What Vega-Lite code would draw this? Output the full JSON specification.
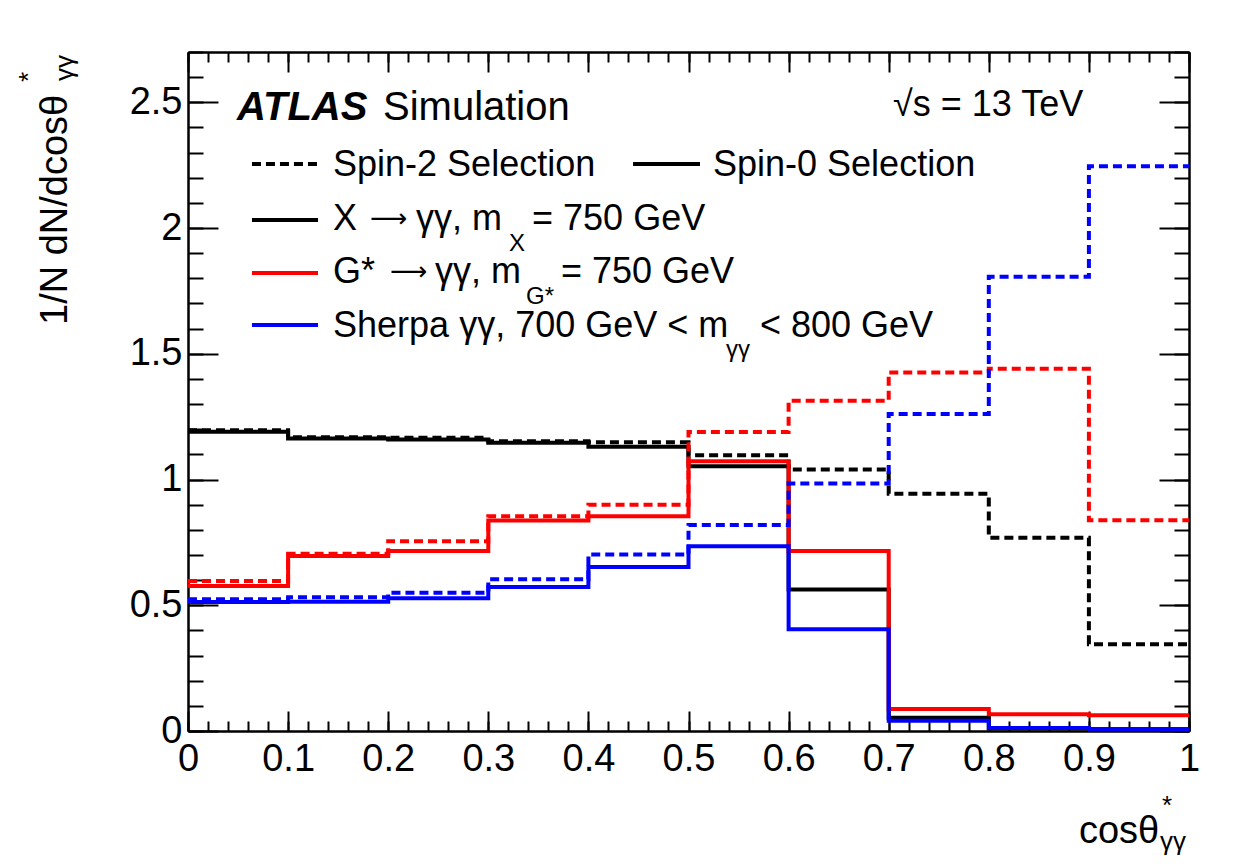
{
  "$schema": "https://vega.github.io/schema/vega-lite/v6.json",
  "width": 1001,
  "height": 679,
  "autosize": {"type": "none"},
  "padding": {"left": 188, "top": 52, "right": 47, "bottom": 136},
  "background": "white",
  "config": {
    "font": "Liberation Sans",
    "view": {"stroke": null},
    "axis": {"grid": false, "domainColor": "black", "domainWidth": 2, "tickColor": "black", "tickWidth": 2, "labelColor": "black", "labelFont": "Liberation Sans", "labelFontSize": 38},
    "text": {"color": "black", "font": "Liberation Sans"}
  },
  "datasets": {
    "hist": [
      {"sample": "X", "sel": "Spin-2", "lo": 0.0, "hi": 0.1, "v": 1.196},
      {"sample": "X", "sel": "Spin-2", "lo": 0.1, "hi": 0.2, "v": 1.168},
      {"sample": "X", "sel": "Spin-2", "lo": 0.2, "hi": 0.3, "v": 1.166},
      {"sample": "X", "sel": "Spin-2", "lo": 0.3, "hi": 0.4, "v": 1.152},
      {"sample": "X", "sel": "Spin-2", "lo": 0.4, "hi": 0.5, "v": 1.148},
      {"sample": "X", "sel": "Spin-2", "lo": 0.5, "hi": 0.6, "v": 1.097},
      {"sample": "X", "sel": "Spin-2", "lo": 0.6, "hi": 0.7, "v": 1.040},
      {"sample": "X", "sel": "Spin-2", "lo": 0.7, "hi": 0.8, "v": 0.943},
      {"sample": "X", "sel": "Spin-2", "lo": 0.8, "hi": 0.9, "v": 0.768},
      {"sample": "X", "sel": "Spin-2", "lo": 0.9, "hi": 1.0, "v": 0.345},
      {"sample": "X", "sel": "Spin-0", "lo": 0.0, "hi": 0.1, "v": 1.190},
      {"sample": "X", "sel": "Spin-0", "lo": 0.1, "hi": 0.2, "v": 1.163},
      {"sample": "X", "sel": "Spin-0", "lo": 0.2, "hi": 0.3, "v": 1.159},
      {"sample": "X", "sel": "Spin-0", "lo": 0.3, "hi": 0.4, "v": 1.146},
      {"sample": "X", "sel": "Spin-0", "lo": 0.4, "hi": 0.5, "v": 1.130},
      {"sample": "X", "sel": "Spin-0", "lo": 0.5, "hi": 0.6, "v": 1.053},
      {"sample": "X", "sel": "Spin-0", "lo": 0.6, "hi": 0.7, "v": 0.563},
      {"sample": "X", "sel": "Spin-0", "lo": 0.7, "hi": 0.8, "v": 0.053},
      {"sample": "X", "sel": "Spin-0", "lo": 0.8, "hi": 0.9, "v": 0.010},
      {"sample": "X", "sel": "Spin-0", "lo": 0.9, "hi": 1.0, "v": 0.005},
      {"sample": "G", "sel": "Spin-2", "lo": 0.0, "hi": 0.1, "v": 0.596},
      {"sample": "G", "sel": "Spin-2", "lo": 0.1, "hi": 0.2, "v": 0.705},
      {"sample": "G", "sel": "Spin-2", "lo": 0.2, "hi": 0.3, "v": 0.755},
      {"sample": "G", "sel": "Spin-2", "lo": 0.3, "hi": 0.4, "v": 0.854},
      {"sample": "G", "sel": "Spin-2", "lo": 0.4, "hi": 0.5, "v": 0.900},
      {"sample": "G", "sel": "Spin-2", "lo": 0.5, "hi": 0.6, "v": 1.189},
      {"sample": "G", "sel": "Spin-2", "lo": 0.6, "hi": 0.7, "v": 1.313},
      {"sample": "G", "sel": "Spin-2", "lo": 0.7, "hi": 0.8, "v": 1.426},
      {"sample": "G", "sel": "Spin-2", "lo": 0.8, "hi": 0.9, "v": 1.440},
      {"sample": "G", "sel": "Spin-2", "lo": 0.9, "hi": 1.0, "v": 0.838},
      {"sample": "G", "sel": "Spin-0", "lo": 0.0, "hi": 0.1, "v": 0.577},
      {"sample": "G", "sel": "Spin-0", "lo": 0.1, "hi": 0.2, "v": 0.696},
      {"sample": "G", "sel": "Spin-0", "lo": 0.2, "hi": 0.3, "v": 0.716},
      {"sample": "G", "sel": "Spin-0", "lo": 0.3, "hi": 0.4, "v": 0.837},
      {"sample": "G", "sel": "Spin-0", "lo": 0.4, "hi": 0.5, "v": 0.854},
      {"sample": "G", "sel": "Spin-0", "lo": 0.5, "hi": 0.6, "v": 1.073},
      {"sample": "G", "sel": "Spin-0", "lo": 0.6, "hi": 0.7, "v": 0.716},
      {"sample": "G", "sel": "Spin-0", "lo": 0.7, "hi": 0.8, "v": 0.087},
      {"sample": "G", "sel": "Spin-0", "lo": 0.8, "hi": 0.9, "v": 0.067},
      {"sample": "G", "sel": "Spin-0", "lo": 0.9, "hi": 1.0, "v": 0.063},
      {"sample": "Sherpa", "sel": "Spin-2", "lo": 0.0, "hi": 0.1, "v": 0.524},
      {"sample": "Sherpa", "sel": "Spin-2", "lo": 0.1, "hi": 0.2, "v": 0.532},
      {"sample": "Sherpa", "sel": "Spin-2", "lo": 0.2, "hi": 0.3, "v": 0.550},
      {"sample": "Sherpa", "sel": "Spin-2", "lo": 0.3, "hi": 0.4, "v": 0.603},
      {"sample": "Sherpa", "sel": "Spin-2", "lo": 0.4, "hi": 0.5, "v": 0.702},
      {"sample": "Sherpa", "sel": "Spin-2", "lo": 0.5, "hi": 0.6, "v": 0.819},
      {"sample": "Sherpa", "sel": "Spin-2", "lo": 0.6, "hi": 0.7, "v": 0.984},
      {"sample": "Sherpa", "sel": "Spin-2", "lo": 0.7, "hi": 0.8, "v": 1.261},
      {"sample": "Sherpa", "sel": "Spin-2", "lo": 0.8, "hi": 0.9, "v": 1.806},
      {"sample": "Sherpa", "sel": "Spin-2", "lo": 0.9, "hi": 1.0, "v": 2.246},
      {"sample": "Sherpa", "sel": "Spin-0", "lo": 0.0, "hi": 0.1, "v": 0.513},
      {"sample": "Sherpa", "sel": "Spin-0", "lo": 0.1, "hi": 0.2, "v": 0.514},
      {"sample": "Sherpa", "sel": "Spin-0", "lo": 0.2, "hi": 0.3, "v": 0.528},
      {"sample": "Sherpa", "sel": "Spin-0", "lo": 0.3, "hi": 0.4, "v": 0.573},
      {"sample": "Sherpa", "sel": "Spin-0", "lo": 0.4, "hi": 0.5, "v": 0.652},
      {"sample": "Sherpa", "sel": "Spin-0", "lo": 0.5, "hi": 0.6, "v": 0.735},
      {"sample": "Sherpa", "sel": "Spin-0", "lo": 0.6, "hi": 0.7, "v": 0.405},
      {"sample": "Sherpa", "sel": "Spin-0", "lo": 0.7, "hi": 0.8, "v": 0.041},
      {"sample": "Sherpa", "sel": "Spin-0", "lo": 0.8, "hi": 0.9, "v": 0.012},
      {"sample": "Sherpa", "sel": "Spin-0", "lo": 0.9, "hi": 1.0, "v": 0.008}
    ]
  },
  "resolve": {"axis": {"x": "independent", "y": "independent"}},
  "layer": [
    {
      "data": {"name": "hist"},
      "transform": [{"fold": ["lo", "hi"], "as": ["edge", "x"]}],
      "mark": {"type": "line", "strokeWidth": 4, "strokeCap": "butt", "strokeJoin": "miter"},
      "encoding": {
        "x": {"field": "x", "type": "quantitative", "scale": {"domain": [0, 1], "nice": false, "zero": false},
          "axis": {"orient": "bottom", "values": [0, 0.1, 0.2, 0.3, 0.4, 0.5, 0.6, 0.7, 0.8, 0.9, 1], "tickSize": -20, "labelPadding": 29, "format": "~g", "labelFlush": false, "labelOverlap": false, "labelBound": false, "title": null}},
        "y": {"field": "v", "type": "quantitative", "scale": {"domain": [0, 2.7], "nice": false, "zero": false},
          "axis": {"orient": "left", "values": [0, 0.5, 1, 1.5, 2, 2.5], "tickSize": -30, "labelPadding": 36, "format": "~g", "labelFlush": false, "labelOverlap": false, "labelBound": false, "title": null}},
        "color": {"field": "sample", "type": "nominal", "scale": {"domain": ["X", "G", "Sherpa"], "range": ["#000000", "#ff0000", "#0000ff"]}, "legend": null},
        "strokeDash": {"field": "sel", "type": "nominal", "scale": {"domain": ["Spin-2", "Spin-0"], "range": [[9, 5], [1, 0]]}, "legend": null},
        "order": [{"field": "x", "type": "quantitative"}, {"field": "edge", "type": "nominal"}]
      }
    },
    {
      "data": {"values": [{"entry": "Spin-2 Selection"}]},
      "mark": {"type": "rule", "color": "#000000", "strokeWidth": 4, "strokeDash": [9, 5]},
      "encoding": {
        "x": {"datum": 0.0639, "type": "quantitative", "axis": {"orient": "top", "values": [0, 0.1, 0.2, 0.3, 0.4, 0.5, 0.6, 0.7, 0.8, 0.9, 1], "tickSize": -20, "labels": false, "title": null}},
        "x2": {"datum": 0.1299},
        "y": {"datum": 2.2547, "type": "quantitative", "axis": {"orient": "right", "values": [0, 0.5, 1, 1.5, 2, 2.5], "tickSize": -30, "labels": false, "title": null}}
      }
    },
    {
      "data": {"values": [{"entry": "Spin-0 Selection"}]},
      "mark": {"type": "rule", "color": "#000000", "strokeWidth": 4},
      "encoding": {
        "x": {"datum": 0.4446, "type": "quantitative", "axis": {"orient": "bottom", "values": [0, 0.02, 0.04, 0.06, 0.08, 0.1, 0.12, 0.14, 0.16, 0.18, 0.2, 0.22, 0.24, 0.26, 0.28, 0.3, 0.32, 0.34, 0.36, 0.38, 0.4, 0.42, 0.44, 0.46, 0.48, 0.5, 0.52, 0.54, 0.56, 0.58, 0.6, 0.62, 0.64, 0.66, 0.68, 0.7, 0.72, 0.74, 0.76, 0.78, 0.8, 0.82, 0.84, 0.86, 0.88, 0.9, 0.92, 0.94, 0.96, 0.98, 1], "tickSize": -10, "labels": false, "title": null}},
        "x2": {"datum": 0.5115},
        "y": {"datum": 2.2547, "type": "quantitative", "axis": {"orient": "left", "values": [0, 0.1, 0.2, 0.3, 0.4, 0.5, 0.6, 0.7, 0.8, 0.9, 1, 1.1, 1.2, 1.3, 1.4, 1.5, 1.6, 1.7, 1.8, 1.9, 2, 2.1, 2.2, 2.3, 2.4, 2.5, 2.6, 2.7], "tickSize": -15, "labels": false, "title": null}}
      }
    },
    {
      "data": {"values": [{"entry": "X"}]},
      "mark": {"type": "rule", "color": "#000000", "strokeWidth": 4},
      "encoding": {
        "x": {"datum": 0.0639, "type": "quantitative", "axis": {"orient": "top", "values": [0, 0.02, 0.04, 0.06, 0.08, 0.1, 0.12, 0.14, 0.16, 0.18, 0.2, 0.22, 0.24, 0.26, 0.28, 0.3, 0.32, 0.34, 0.36, 0.38, 0.4, 0.42, 0.44, 0.46, 0.48, 0.5, 0.52, 0.54, 0.56, 0.58, 0.6, 0.62, 0.64, 0.66, 0.68, 0.7, 0.72, 0.74, 0.76, 0.78, 0.8, 0.82, 0.84, 0.86, 0.88, 0.9, 0.92, 0.94, 0.96, 0.98, 1], "tickSize": -10, "labels": false, "title": null}},
        "x2": {"datum": 0.1299},
        "y": {"datum": 2.032, "type": "quantitative", "axis": {"orient": "right", "values": [0, 0.1, 0.2, 0.3, 0.4, 0.5, 0.6, 0.7, 0.8, 0.9, 1, 1.1, 1.2, 1.3, 1.4, 1.5, 1.6, 1.7, 1.8, 1.9, 2, 2.1, 2.2, 2.3, 2.4, 2.5, 2.6, 2.7], "tickSize": -15, "labels": false, "title": null}}
      }
    },
    {
      "data": {"values": [{"entry": "G"}]},
      "mark": {"type": "rule", "color": "#ff0000", "strokeWidth": 4},
      "encoding": {
        "x": {"datum": 0.0639, "type": "quantitative", "axis": null},
        "x2": {"datum": 0.1299},
        "y": {"datum": 1.8212, "type": "quantitative", "axis": null}
      }
    },
    {
      "data": {"values": [{"entry": "Sherpa"}]},
      "mark": {"type": "rule", "color": "#0000ff", "strokeWidth": 4},
      "encoding": {
        "x": {"datum": 0.0639, "type": "quantitative", "axis": null},
        "x2": {"datum": 0.1299},
        "y": {"datum": 1.6144, "type": "quantitative", "axis": null}
      }
    },
    {
      "data": {"values": [{"t": "ATLAS"}]},
      "mark": {"type": "text", "align": "left", "baseline": "alphabetic", "fontSize": 40, "fontWeight": "bold", "fontStyle": "italic"},
      "encoding": {"text": {"field": "t"}, "x": {"datum": 0.049, "type": "quantitative", "axis": null}, "y": {"datum": 2.4296, "type": "quantitative", "axis": null}}
    },
    {
      "data": {"values": [{"t": "Simulation"}]},
      "mark": {"type": "text", "align": "left", "baseline": "alphabetic", "fontSize": 40},
      "encoding": {"text": {"field": "t"}, "x": {"datum": 0.1948, "type": "quantitative", "axis": null}, "y": {"datum": 2.4296, "type": "quantitative", "axis": null}}
    },
    {
      "data": {"values": [{"t": "√s = 13 TeV"}]},
      "mark": {"type": "text", "align": "left", "baseline": "alphabetic", "fontSize": 36},
      "encoding": {"text": {"field": "t"}, "x": {"datum": 0.7043, "type": "quantitative", "axis": null}, "y": {"datum": 2.4455, "type": "quantitative", "axis": null}}
    },
    {
      "data": {"values": [{"t": "Spin-2 Selection"}]},
      "mark": {"type": "text", "align": "left", "baseline": "alphabetic", "fontSize": 36},
      "encoding": {"text": {"field": "t"}, "x": {"datum": 0.1449, "type": "quantitative", "axis": null}, "y": {"datum": 2.2069, "type": "quantitative", "axis": null}}
    },
    {
      "data": {"values": [{"t": "Spin-0 Selection"}]},
      "mark": {"type": "text", "align": "left", "baseline": "alphabetic", "fontSize": 36},
      "encoding": {"text": {"field": "t"}, "x": {"datum": 0.5245, "type": "quantitative", "axis": null}, "y": {"datum": 2.2069, "type": "quantitative", "axis": null}}
    },
    {
      "data": {"values": [{"t": "X"}]},
      "mark": {"type": "text", "align": "left", "baseline": "alphabetic", "fontSize": 36},
      "encoding": {"text": {"field": "t"}, "x": {"datum": 0.1449, "type": "quantitative", "axis": null}, "y": {"datum": 1.9922, "type": "quantitative", "axis": null}}
    },
    {
      "data": {"values": [{"t": "⟶"}]},
      "mark": {"type": "text", "align": "left", "baseline": "alphabetic", "fontSize": 26, "font": "DejaVu Sans"},
      "encoding": {"text": {"field": "t"}, "x": {"datum": 0.1818, "type": "quantitative", "axis": null}, "y": {"datum": 2.0041, "type": "quantitative", "axis": null}}
    },
    {
      "data": {"values": [{"t": "γγ, m"}]},
      "mark": {"type": "text", "align": "left", "baseline": "alphabetic", "fontSize": 36},
      "encoding": {"text": {"field": "t"}, "x": {"datum": 0.2278, "type": "quantitative", "axis": null}, "y": {"datum": 1.9922, "type": "quantitative", "axis": null}}
    },
    {
      "data": {"values": [{"t": "X"}]},
      "mark": {"type": "text", "align": "left", "baseline": "alphabetic", "fontSize": 24},
      "encoding": {"text": {"field": "t"}, "x": {"datum": 0.3207, "type": "quantitative", "axis": null}, "y": {"datum": 1.9087, "type": "quantitative", "axis": null}}
    },
    {
      "data": {"values": [{"t": "= 750 GeV"}]},
      "mark": {"type": "text", "align": "left", "baseline": "alphabetic", "fontSize": 36},
      "encoding": {"text": {"field": "t"}, "x": {"datum": 0.3437, "type": "quantitative", "axis": null}, "y": {"datum": 1.9922, "type": "quantitative", "axis": null}}
    },
    {
      "data": {"values": [{"t": "G*"}]},
      "mark": {"type": "text", "align": "left", "baseline": "alphabetic", "fontSize": 36},
      "encoding": {"text": {"field": "t"}, "x": {"datum": 0.1449, "type": "quantitative", "axis": null}, "y": {"datum": 1.7815, "type": "quantitative", "axis": null}}
    },
    {
      "data": {"values": [{"t": "⟶"}]},
      "mark": {"type": "text", "align": "left", "baseline": "alphabetic", "fontSize": 26, "font": "DejaVu Sans"},
      "encoding": {"text": {"field": "t"}, "x": {"datum": 0.2018, "type": "quantitative", "axis": null}, "y": {"datum": 1.7934, "type": "quantitative", "axis": null}}
    },
    {
      "data": {"values": [{"t": "γγ, m"}]},
      "mark": {"type": "text", "align": "left", "baseline": "alphabetic", "fontSize": 36},
      "encoding": {"text": {"field": "t"}, "x": {"datum": 0.2468, "type": "quantitative", "axis": null}, "y": {"datum": 1.7815, "type": "quantitative", "axis": null}}
    },
    {
      "data": {"values": [{"t": "G*"}]},
      "mark": {"type": "text", "align": "left", "baseline": "alphabetic", "fontSize": 24},
      "encoding": {"text": {"field": "t"}, "x": {"datum": 0.3377, "type": "quantitative", "axis": null}, "y": {"datum": 1.6979, "type": "quantitative", "axis": null}}
    },
    {
      "data": {"values": [{"t": "= 750 GeV"}]},
      "mark": {"type": "text", "align": "left", "baseline": "alphabetic", "fontSize": 36},
      "encoding": {"text": {"field": "t"}, "x": {"datum": 0.3726, "type": "quantitative", "axis": null}, "y": {"datum": 1.7815, "type": "quantitative", "axis": null}}
    },
    {
      "data": {"values": [{"t": "Sherpa γγ, 700 GeV < m"}]},
      "mark": {"type": "text", "align": "left", "baseline": "alphabetic", "fontSize": 36},
      "encoding": {"text": {"field": "t"}, "x": {"datum": 0.1449, "type": "quantitative", "axis": null}, "y": {"datum": 1.5667, "type": "quantitative", "axis": null}}
    },
    {
      "data": {"values": [{"t": "γγ"}]},
      "mark": {"type": "text", "align": "left", "baseline": "alphabetic", "fontSize": 24},
      "encoding": {"text": {"field": "t"}, "x": {"datum": 0.5375, "type": "quantitative", "axis": null}, "y": {"datum": 1.4871, "type": "quantitative", "axis": null}}
    },
    {
      "data": {"values": [{"t": "< 800 GeV"}]},
      "mark": {"type": "text", "align": "left", "baseline": "alphabetic", "fontSize": 36},
      "encoding": {"text": {"field": "t"}, "x": {"datum": 0.5714, "type": "quantitative", "axis": null}, "y": {"datum": 1.5667, "type": "quantitative", "axis": null}}
    },
    {
      "data": {"values": [{"t": "cosθ"}]},
      "mark": {"type": "text", "align": "left", "baseline": "alphabetic", "fontSize": 38},
      "encoding": {"text": {"field": "t"}, "x": {"datum": 0.8901, "type": "quantitative", "axis": null}, "y": {"datum": -0.4454, "type": "quantitative", "axis": null}}
    },
    {
      "data": {"values": [{"t": "*"}]},
      "mark": {"type": "text", "align": "left", "baseline": "alphabetic", "fontSize": 26},
      "encoding": {"text": {"field": "t"}, "x": {"datum": 0.973, "type": "quantitative", "axis": null}, "y": {"datum": -0.33, "type": "quantitative", "axis": null}}
    },
    {
      "data": {"values": [{"t": "γγ"}]},
      "mark": {"type": "text", "align": "left", "baseline": "alphabetic", "fontSize": 26},
      "encoding": {"text": {"field": "t"}, "x": {"datum": 0.971, "type": "quantitative", "axis": null}, "y": {"datum": -0.4732, "type": "quantitative", "axis": null}}
    },
    {
      "data": {"values": [{"t": "1/N dN/dcosθ"}]},
      "mark": {"type": "text", "align": "left", "baseline": "alphabetic", "fontSize": 38, "angle": 270},
      "encoding": {"text": {"field": "t"}, "x": {"datum": -0.1209, "type": "quantitative", "axis": null}, "y": {"datum": 1.6144, "type": "quantitative", "axis": null}}
    },
    {
      "data": {"values": [{"t": "*"}]},
      "mark": {"type": "text", "align": "left", "baseline": "alphabetic", "fontSize": 26, "angle": 270},
      "encoding": {"text": {"field": "t"}, "x": {"datum": -0.1508, "type": "quantitative", "axis": null}, "y": {"datum": 2.5807, "type": "quantitative", "axis": null}}
    },
    {
      "data": {"values": [{"t": "γγ"}]},
      "mark": {"type": "text", "align": "left", "baseline": "alphabetic", "fontSize": 26, "angle": 270},
      "encoding": {"text": {"field": "t"}, "x": {"datum": -0.1149, "type": "quantitative", "axis": null}, "y": {"datum": 2.5847, "type": "quantitative", "axis": null}}
    }
  ]
}
